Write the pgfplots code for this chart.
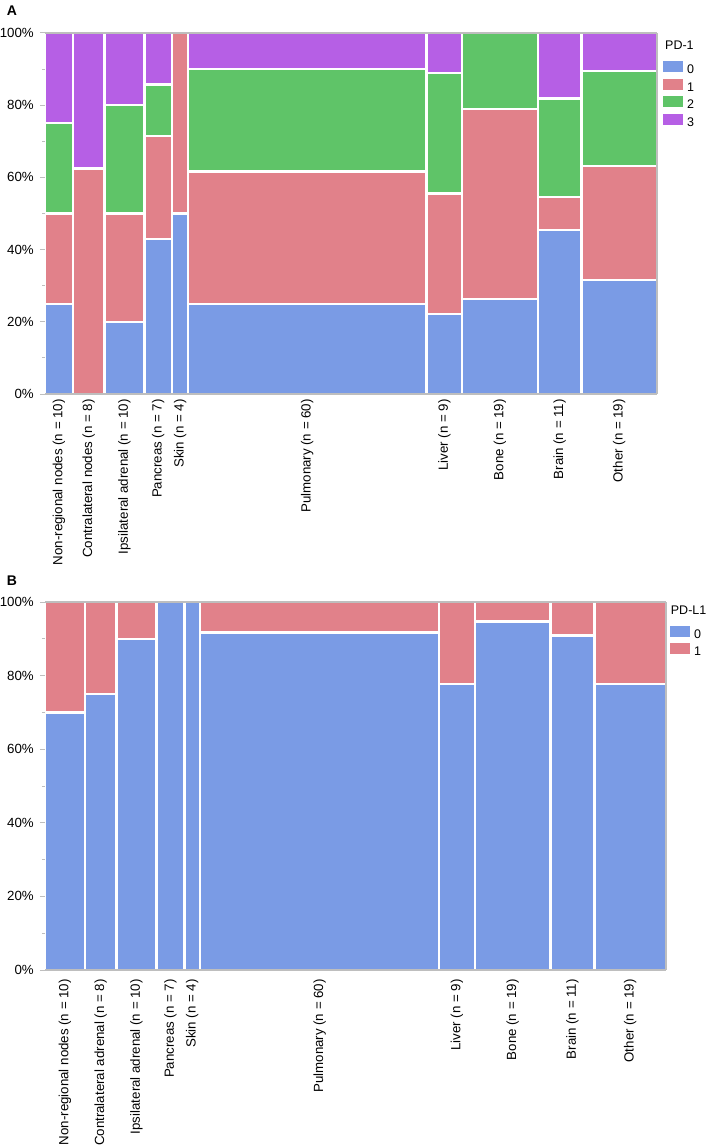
\documentclass[border=0pt]{standalone}
\usepackage{fontspec}
\setmainfont{Liberation Sans}
\usepackage{pgfplots}
\pgfplotsset{compat=1.18}
\usepackage{pgfplotstable}

\definecolor{c0}{RGB}{122,155,229}
\definecolor{c1}{RGB}{225,129,138}
\definecolor{c2}{RGB}{95,196,104}
\definecolor{c3}{RGB}{182,95,229}
\definecolor{framegray}{RGB}{190,190,190}

% PD-1: column left boundaries and cumulative percentages (last row = right end)
\pgfplotstableread{
x c0 c1 c2 c3
0 25 50 75 100
7 0 62.5 62.5 100
15 20 50 80 100
25 42.86 71.43 85.71 100
32 50 100 100 100
36 25 61.67 90 100
96 22.22 55.56 88.89 100
105 26.32 78.95 100 100
124 45.45 54.55 81.82 100
135 31.58 63.16 89.47 100
154 0 0 0 0
}\pdone

% PD-L1
\pgfplotstableread{
x c0 c1
0 70 100
10 75 100
18 90 100
28 100 100
35 100 100
39 91.67 100
99 77.78 100
108 94.74 100
127 90.91 100
138 77.78 100
156 0 0
}\pdlone

\pgfplotsset{
  tile/.style={ybar interval, draw=white, line width=2.4pt,
    legend image code/.code={\fill[##1, draw=none] (0pt,-1pt) rectangle (20pt,10pt);}},
  mosaic/.style={
    scale only axis, ymin=0, ymax=100, clip=false,
    ytick={0,20,40,60,80,100},
    yticklabels={0\%,20\%,40\%,60\%,80\%,100\%},
    minor ytick={10,30,50,70,90},
    ytick pos=left,
    tick align=outside, major tick length=5pt, minor tick length=3pt,
    tick style={framegray, line width=1pt},
    xtick style={draw=none},
    separate axis lines,
    axis line style={framegray, line width=1.2pt},
    every outer y axis line/.append style={draw=none},
    axis on top,
    tick label style={font=\fontsize{13.3}{16}\selectfont},
    xticklabel style={rotate=90, anchor=east, inner sep=0pt},
    yticklabel style={inner sep=0pt},
    yticklabel shift=6pt,
    legend style={draw=none, fill=none, inner sep=0pt, column sep=4pt, row sep=0pt,
      font=\fontsize{12.5}{14}\selectfont,
      nodes={inner sep=0pt, text height=10pt, text depth=5pt}},
    legend cell align=left, reverse legend,
  }
}

\begin{document}
\begin{tikzpicture}
\useasboundingbox (0pt,0pt) rectangle (709pt,-1147pt);

\begin{axis}[mosaic, at={(45pt,-33pt)}, anchor=north west, width=612pt, height=361pt,
  xmin=0, xmax=154,
  xtick={3.5,11,20,28.5,34,66,100.5,114.5,129.5,144.5},
  xticklabels={Non-regional nodes (n = 10),Contralateral nodes (n = 8),Ipsilateral adrenal (n = 10),Pancreas (n = 7),Skin (n = 4),Pulmonary (n = 60),Liver (n = 9),Bone (n = 19),Brain (n = 11),Other (n = 19)},
  xticklabel shift=0pt,
  legend style={at={(1,1)}, anchor=north west, xshift=6pt, yshift=-28pt},
]
\addplot[tile, fill=c3] table[x=x, y=c3] {\pdone}; \addlegendentry{3}
\addplot[tile, fill=c2] table[x=x, y=c2] {\pdone}; \addlegendentry{2}
\addplot[tile, fill=c1] table[x=x, y=c1] {\pdone}; \addlegendentry{1}
\addplot[tile, fill=c0] table[x=x, y=c0] {\pdone}; \addlegendentry{0}
\draw[framegray, line width=1.2pt] (rel axis cs:1,0) -- (rel axis cs:1,1);
\end{axis}
\node[anchor=west, font=\fontsize{12.5}{14}\selectfont, inner sep=0pt] at (665pt,-45.7pt) {PD-1};

\begin{axis}[mosaic, at={(45pt,-602pt)}, anchor=north west, width=621pt, height=368pt,
  xmin=0, xmax=156,
  xtick={5,14,23,31.5,37,69,103.5,117.5,132.5,147},
  xticklabels={Non-regional nodes (n = 10),Contralateral adrenal (n = 8),Ipsilateral adrenal (n = 10),Pancreas (n = 7),Skin (n = 4),Pulmonary (n = 60),Liver (n = 9),Bone (n = 19),Brain (n = 11),Other (n = 19)},
  xticklabel shift=4pt,
  legend style={at={(1,1)}, anchor=north west, xshift=4pt, yshift=-24pt,
    row sep=-0.5pt},
]
\addplot[tile, fill=c1] table[x=x, y=c1] {\pdlone}; \addlegendentry{1}
\addplot[tile, fill=c0] table[x=x, y=c0] {\pdlone}; \addlegendentry{0}
\draw[framegray, line width=1.2pt] (rel axis cs:1,0) -- (rel axis cs:1,1);
\end{axis}
\node[anchor=west, font=\fontsize{12.5}{14}\selectfont, inner sep=0pt] at (670.7pt,-610pt) {PD-L1};

\node[font=\fontsize{14}{16}\selectfont\bfseries] at (12pt,-11pt) {A};
\node[font=\fontsize{14}{16}\selectfont\bfseries] at (12pt,-581pt) {B};
\end{tikzpicture}
\end{document}
